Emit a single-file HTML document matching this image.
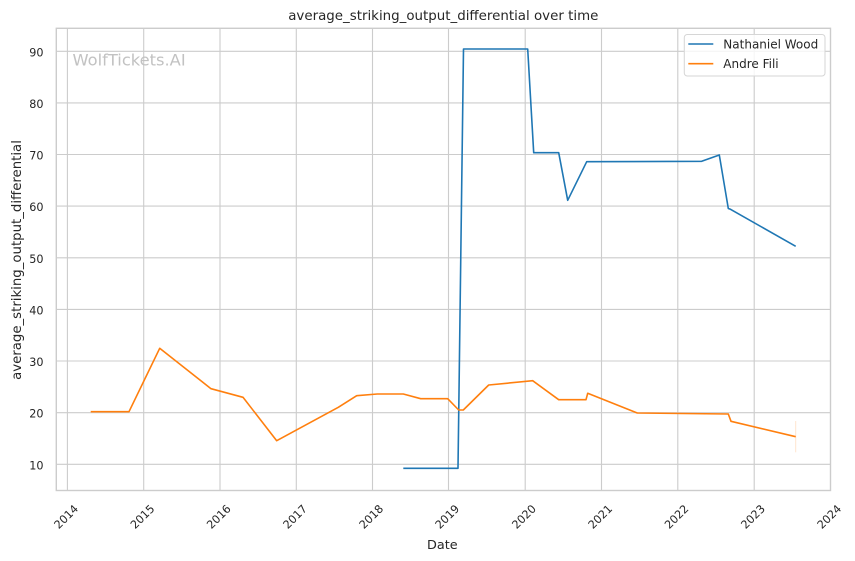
<!DOCTYPE html>
<html>
<head>
<meta charset="utf-8">
<style>
html,body{margin:0;padding:0;background:#fff;}
svg{display:block;}
text{font-family:"DejaVu Sans","Liberation Sans",sans-serif;fill:#262626;}
</style>
</head>
<body>
<svg width="855" height="561" viewBox="0 0 855 561" xmlns="http://www.w3.org/2000/svg">
<rect x="0" y="0" width="855" height="561" fill="#fff"/>
<!-- grid -->
<g stroke="#cccccc" stroke-width="1.1" fill="none">
<line x1="67.4" y1="28.3" x2="67.4" y2="490.5"/>
<line x1="143.7" y1="28.3" x2="143.7" y2="490.5"/>
<line x1="220" y1="28.3" x2="220" y2="490.5"/>
<line x1="296.3" y1="28.3" x2="296.3" y2="490.5"/>
<line x1="372.5" y1="28.3" x2="372.5" y2="490.5"/>
<line x1="448.5" y1="28.3" x2="448.5" y2="490.5"/>
<line x1="525.2" y1="28.3" x2="525.2" y2="490.5"/>
<line x1="601.5" y1="28.3" x2="601.5" y2="490.5"/>
<line x1="677.8" y1="28.3" x2="677.8" y2="490.5"/>
<line x1="754.2" y1="28.3" x2="754.2" y2="490.5"/>
<line x1="56.3" y1="51.3" x2="830.5" y2="51.3"/>
<line x1="56.3" y1="102.9" x2="830.5" y2="102.9"/>
<line x1="56.3" y1="154.5" x2="830.5" y2="154.5"/>
<line x1="56.3" y1="206.1" x2="830.5" y2="206.1"/>
<line x1="56.3" y1="257.8" x2="830.5" y2="257.8"/>
<line x1="56.3" y1="309.4" x2="830.5" y2="309.4"/>
<line x1="56.3" y1="361.0" x2="830.5" y2="361.0"/>
<line x1="56.3" y1="412.7" x2="830.5" y2="412.7"/>
<line x1="56.3" y1="464.3" x2="830.5" y2="464.3"/>
</g>
<!-- spines -->
<rect x="56.3" y="28.3" width="774.2" height="462.2" fill="none" stroke="#cccccc" stroke-width="1.4"/>
<!-- watermark -->
<text x="72.5" y="65.5" font-size="16.3" style="fill:#c2c2c2">WolfTickets.AI</text>
<!-- series -->
<polyline fill="none" stroke="#1f77b4" stroke-width="1.6" stroke-linejoin="round" points="403.3,468.3 458,468.3 463.5,49 527.7,49 533.7,152.7 558.7,152.7 567.7,200.3 586.7,161.7 701.7,161.3 719.3,155 728.3,208.5 730.5,209.3 795.7,246.3"/>
<line x1="795.7" y1="421" x2="795.7" y2="452.3" stroke="#ff7f0e" stroke-opacity="0.2" stroke-width="1"/>
<polyline fill="none" stroke="#ff7f0e" stroke-width="1.6" stroke-linejoin="round" points="90.7,411.7 129,411.7 159.7,348.3 211,388.7 243,397.3 276.7,440.7 338.3,407.3 356.7,395.7 377.3,394 403.3,394 420.7,398.7 447.7,398.7 458.7,410 463.3,410 488.7,385 532.7,380.7 558.7,399.7 586,399.7 587.7,393.3 637.3,413 728.3,414 731,421.3 795.7,436.7"/>
<!-- y tick labels -->
<g font-size="11.2" text-anchor="end">
<text x="43.5" y="56.3">90</text>
<text x="43.5" y="107.9">80</text>
<text x="43.5" y="159.5">70</text>
<text x="43.5" y="211.1">60</text>
<text x="43.5" y="262.8">50</text>
<text x="43.5" y="314.4">40</text>
<text x="43.5" y="366.0">30</text>
<text x="43.5" y="417.7">20</text>
<text x="43.5" y="469.3">10</text>
</g>
<!-- x tick labels -->
<g font-size="11.2" text-anchor="middle" dominant-baseline="central">
<text x="66.4" y="517" transform="rotate(-45 66.4 517)">2014</text>
<text x="142.7" y="517" transform="rotate(-45 142.7 517)">2015</text>
<text x="219" y="517" transform="rotate(-45 219 517)">2016</text>
<text x="295.3" y="517" transform="rotate(-45 295.3 517)">2017</text>
<text x="371.5" y="517" transform="rotate(-45 371.5 517)">2018</text>
<text x="447.5" y="517" transform="rotate(-45 447.5 517)">2019</text>
<text x="524.2" y="517" transform="rotate(-45 524.2 517)">2020</text>
<text x="600.5" y="517" transform="rotate(-45 600.5 517)">2021</text>
<text x="676.8" y="517" transform="rotate(-45 676.8 517)">2022</text>
<text x="753.2" y="517" transform="rotate(-45 753.2 517)">2023</text>
<text x="829.5" y="517" transform="rotate(-45 829.5 517)">2024</text>
</g>
<!-- axis labels -->
<text x="442.3" y="549" font-size="12.8" text-anchor="middle">Date</text>
<text transform="translate(20.8 260) rotate(-90)" x="0" y="0" font-size="13.3" text-anchor="middle">average_striking_output_differential</text>
<!-- title -->
<text x="443.3" y="20" font-size="13.4" text-anchor="middle">average_striking_output_differential over time</text>
<!-- legend -->
<rect x="684.3" y="34.5" width="140.7" height="41.5" rx="3" ry="3" fill="#fff" fill-opacity="0.8" stroke="#d6d6d6" stroke-width="1"/>
<line x1="688.3" y1="44" x2="713.3" y2="44" stroke="#1f77b4" stroke-width="1.6"/>
<line x1="688.3" y1="63.7" x2="713.3" y2="63.7" stroke="#ff7f0e" stroke-width="1.6"/>
<g font-size="12">
<text x="723.3" y="48.3">Nathaniel Wood</text>
<text x="723.3" y="68">Andre Fili</text>
</g>
</svg>
</body>
</html>
